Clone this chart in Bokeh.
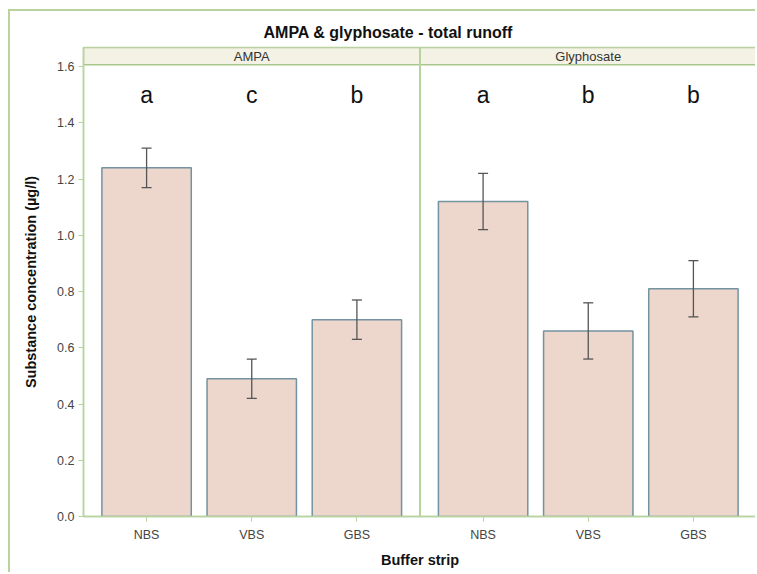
from bokeh.plotting import figure
from bokeh.models import (Range1d, FixedTicker, Whisker, TeeHead, ColumnDataSource, Span)
from bokeh.core.properties import value
from bokeh.embed import file_html
from bokeh.resources import INLINE

# ---- data ----
panels = ["AMPA", "Glyphosate"]
strips = ["NBS", "VBS", "GBS"]
ampa_mean = [1.24, 0.49, 0.70]
ampa_lower = [1.17, 0.42, 0.63]
ampa_upper = [1.31, 0.56, 0.77]
ampa_letters = ["a", "c", "b"]
gly_mean = [1.12, 0.66, 0.81]
gly_lower = [1.02, 0.56, 0.71]
gly_upper = [1.22, 0.76, 0.91]
gly_letters = ["a", "b", "b"]
y_ticks = [0.0, 0.2, 0.4, 0.6, 0.8, 1.0, 1.2, 1.4, 1.6]

FONT = "Liberation Sans"
GREEN = "#b9d39f"
GREEN_D = "#a9c78c"

PANEL_W = 3.2
PAD = 0.6
means = [ampa_mean, gly_mean]
lowers = [ampa_lower, gly_lower]
uppers = [ampa_upper, gly_upper]
letters = [ampa_letters, gly_letters]

xs, tops, lo, hi, let, labels = [], [], [], [], [], []
for i in range(2):
    for j in range(3):
        xs.append(i * PANEL_W + 1 + j)
        tops.append(means[i][j])
        lo.append(lowers[i][j])
        hi.append(uppers[i][j])
        let.append(letters[i][j])
        labels.append(strips[j])

src = ColumnDataSource(dict(x=xs, top=tops, lo=lo, hi=hi, let=let, ly=[1.5] * 6))

Y_TOP_PLOT = 1.607
Y_TOP = 1.668
x0 = 1 - PAD
x1 = x0 + 2 * PANEL_W

BORDER = 2
OFF_X, OFF_Y = 8 + BORDER, 9 + BORDER

p = figure(width=757 - OFF_X, height=574 - OFF_Y, output_backend="svg", toolbar_location=None,
           x_range=Range1d(x0, x1), y_range=Range1d(0, Y_TOP),
           min_border_left=83 - OFF_X, min_border_right=1,
           min_border_top=47 - OFF_Y, min_border_bottom=58)
p.styles = {"margin-left": "8px", "margin-top": "9px",
            "border-left": f"{BORDER}px solid {GREEN}",
            "border-top": f"{BORDER}px solid {GREEN}"}

p.title.text = "AMPA & glyphosate - total runoff"
p.title.text_font = FONT
p.title.text_font_size = "16px"
p.title.text_font_style = "bold"
p.title.text_color = "#111111"
p.title.align = "left"
p.title.offset = 180
p.title.standoff = 13

p.xgrid.visible = False
p.ygrid.visible = False
p.background_fill_color = "white"
p.border_fill_color = "white"
p.outline_line_color = GREEN
p.outline_line_width = 1.5

# header strips
for i, name in enumerate(panels):
    l = x0 + i * PANEL_W
    p.quad(left=[l], right=[l + PANEL_W], bottom=[Y_TOP_PLOT], top=[Y_TOP],
           fill_color="#f3f2e5", line_color=GREEN_D, line_width=1.5)
    p.text(x=[l + PANEL_W / 2], y=[(Y_TOP_PLOT + Y_TOP) / 2], text=[name],
           text_font=value(FONT), text_font_size="13px", text_color="#333333",
           text_align="center", text_baseline="middle")

# divider
p.add_layout(Span(location=x0 + PANEL_W, dimension="height", line_color=GREEN, line_width=2))

# bars
p.vbar(x="x", top="top", bottom=0, width=0.85, source=src,
       fill_color="#edd6cc", line_color="#7393a0", line_width=1.5)

# error bars
w = Whisker(base="x", lower="lo", upper="hi", source=src, level="overlay",
            line_color="#555555", line_width=1.3,
            upper_head=TeeHead(size=10, line_color="#555555", line_width=1.3),
            lower_head=TeeHead(size=10, line_color="#555555", line_width=1.3))
p.add_layout(w)

# significance letters
p.text(x="x", y="ly", text="let", source=src, text_font=value(FONT),
       text_font_size="23px", text_color="#111111",
       text_align="center", text_baseline="middle")

# axes
p.xaxis.ticker = FixedTicker(ticks=xs)
p.xaxis.major_label_overrides = {x: lab for x, lab in zip(xs, labels)}
p.yaxis.ticker = FixedTicker(ticks=y_ticks)
p.yaxis.major_label_overrides = {t: f"{t:.1f}" for t in y_ticks}
for ax in (p.xaxis[0], p.yaxis[0]):
    ax.axis_line_color = GREEN
    ax.axis_line_width = 1.5
    ax.major_tick_line_color = GREEN
    ax.major_tick_in = 0
    ax.major_tick_out = 5
    ax.minor_tick_line_color = None
    ax.major_label_text_font = FONT
    ax.major_label_text_font_size = "12.5px"
    ax.major_label_text_color = "#444444"
    ax.axis_label_text_font = FONT
    ax.axis_label_text_font_size = "14.5px"
    ax.axis_label_text_font_style = "bold"
    ax.axis_label_text_color = "#111111"
p.xaxis.axis_label = "Buffer strip"
p.yaxis.axis_label = "Substance concentration (µg/l)"
p.xaxis.major_label_standoff = 6
p.xaxis.axis_label_standoff = 7
p.yaxis.major_label_standoff = 4
p.yaxis.axis_label_standoff = 15

open("out.html", "w").write(file_html(p, INLINE))
